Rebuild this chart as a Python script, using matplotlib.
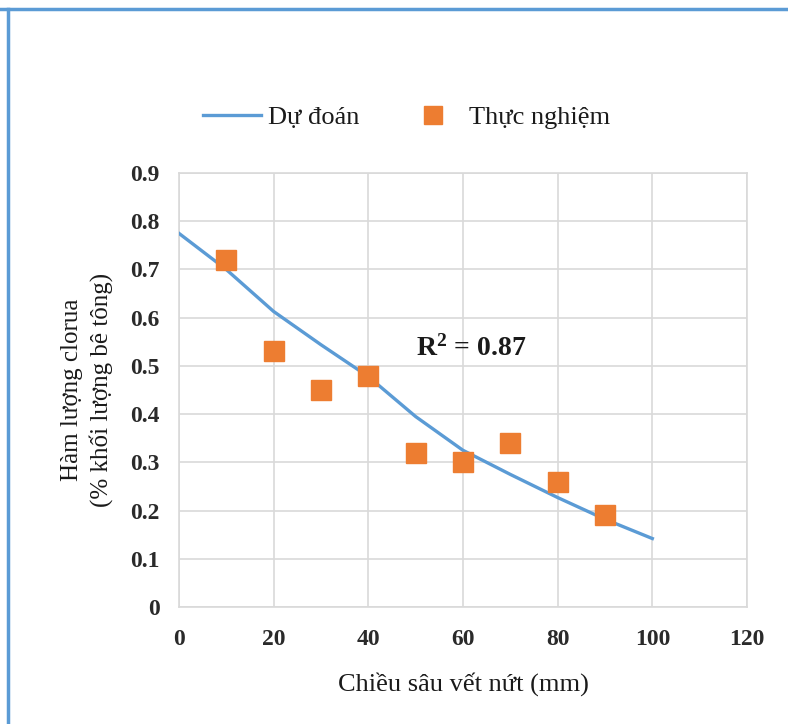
import matplotlib
matplotlib.use("Agg")
import matplotlib.pyplot as plt
from matplotlib.lines import Line2D

# Data
pred_x = [0, 10, 20, 30, 40, 50, 60, 70, 80, 90, 100]
pred_y = [0.775, 0.70, 0.613, 0.544, 0.478, 0.395, 0.325, 0.275, 0.227, 0.182, 0.142]
exp_x = [10, 20, 30, 40, 50, 60, 70, 80, 90]
exp_y = [0.72, 0.53, 0.45, 0.48, 0.32, 0.30, 0.34, 0.26, 0.19]
x_ticks = [0, 20, 40, 60, 80, 100, 120]
y_ticks = [0, 0.1, 0.2, 0.3, 0.4, 0.5, 0.6, 0.7, 0.8, 0.9]
y_tick_labels = ["0", "0.1", "0.2", "0.3", "0.4", "0.5", "0.6", "0.7", "0.8", "0.9"]

plt.rcParams['font.family'] = ['Liberation Serif', 'DejaVu Serif']
plt.rcParams['mathtext.fontset'] = 'custom'
plt.rcParams['mathtext.rm'] = 'Liberation Serif:bold'
plt.rcParams['mathtext.bf'] = 'Liberation Serif:bold'
plt.rcParams['mathtext.it'] = 'Liberation Serif:bold'

fig = plt.figure(figsize=(7.88, 7.24), dpi=100)
ax = fig.add_axes([0.227, 0.1616, 0.721, 0.5994])

grid_c = '#d9d9d9'
line_c = '#5b9bd5'
mark_c = '#ed7d31'
txt_c = '#1a1a1a'

ax.plot(pred_x, pred_y, color=line_c, lw=2.4, label='Dự đoán', zorder=3)
ax.plot(exp_x, exp_y, ls='none', marker='s', ms=15, color=mark_c,
        markeredgecolor=mark_c, label='Thực nghiệm', zorder=4)

ax.set_xlim(0, 120)
ax.set_ylim(0, 0.9)
ax.set_xticks(x_ticks)
ax.set_yticks(y_ticks)
ax.set_yticklabels(y_tick_labels)
ax.grid(True, color=grid_c, lw=1.2)
ax.set_axisbelow(True)
for s in ax.spines.values():
    s.set_color(grid_c)
    s.set_linewidth(1.2)
ax.tick_params(length=0, labelsize=17)
ax.tick_params(axis='x', pad=16)
ax.tick_params(axis='y', pad=14)
for lab in ax.get_xticklabels() + ax.get_yticklabels():
    lab.set_fontweight('bold')
    lab.set_color('#2a2a2a')

ax.set_xlabel('Chiều sâu vết nứt (mm)', fontsize=19, labelpad=16, color=txt_c)
ax.set_ylabel('Hàm lượng clorua\n(% khối lượng bê tông)', fontsize=18,
              labelpad=12, color=txt_c, linespacing=1.35)

ax.text(50, 0.537, r'$\mathrm{R^2}$ = 0.87', fontsize=20, fontweight='bold',
        ha='left', va='center', color=txt_c)

leg = fig.legend(loc='center', bbox_to_anchor=(0.516, 0.838), ncol=2,
                 frameon=False, fontsize=19, handlelength=2.2,
                 columnspacing=1.7, handletextpad=0.25, markerscale=0.9)
for t in leg.get_texts():
    t.set_color(txt_c)

# blue border on top and left
fig.add_artist(Line2D([0.0, 1.0], [0.9875, 0.9875], transform=fig.transFigure,
                      color=line_c, lw=2.5))
fig.add_artist(Line2D([0.0105, 0.0105], [0.0, 0.9875], transform=fig.transFigure,
                      color=line_c, lw=2.5))

fig.savefig('out.png', dpi=100)
